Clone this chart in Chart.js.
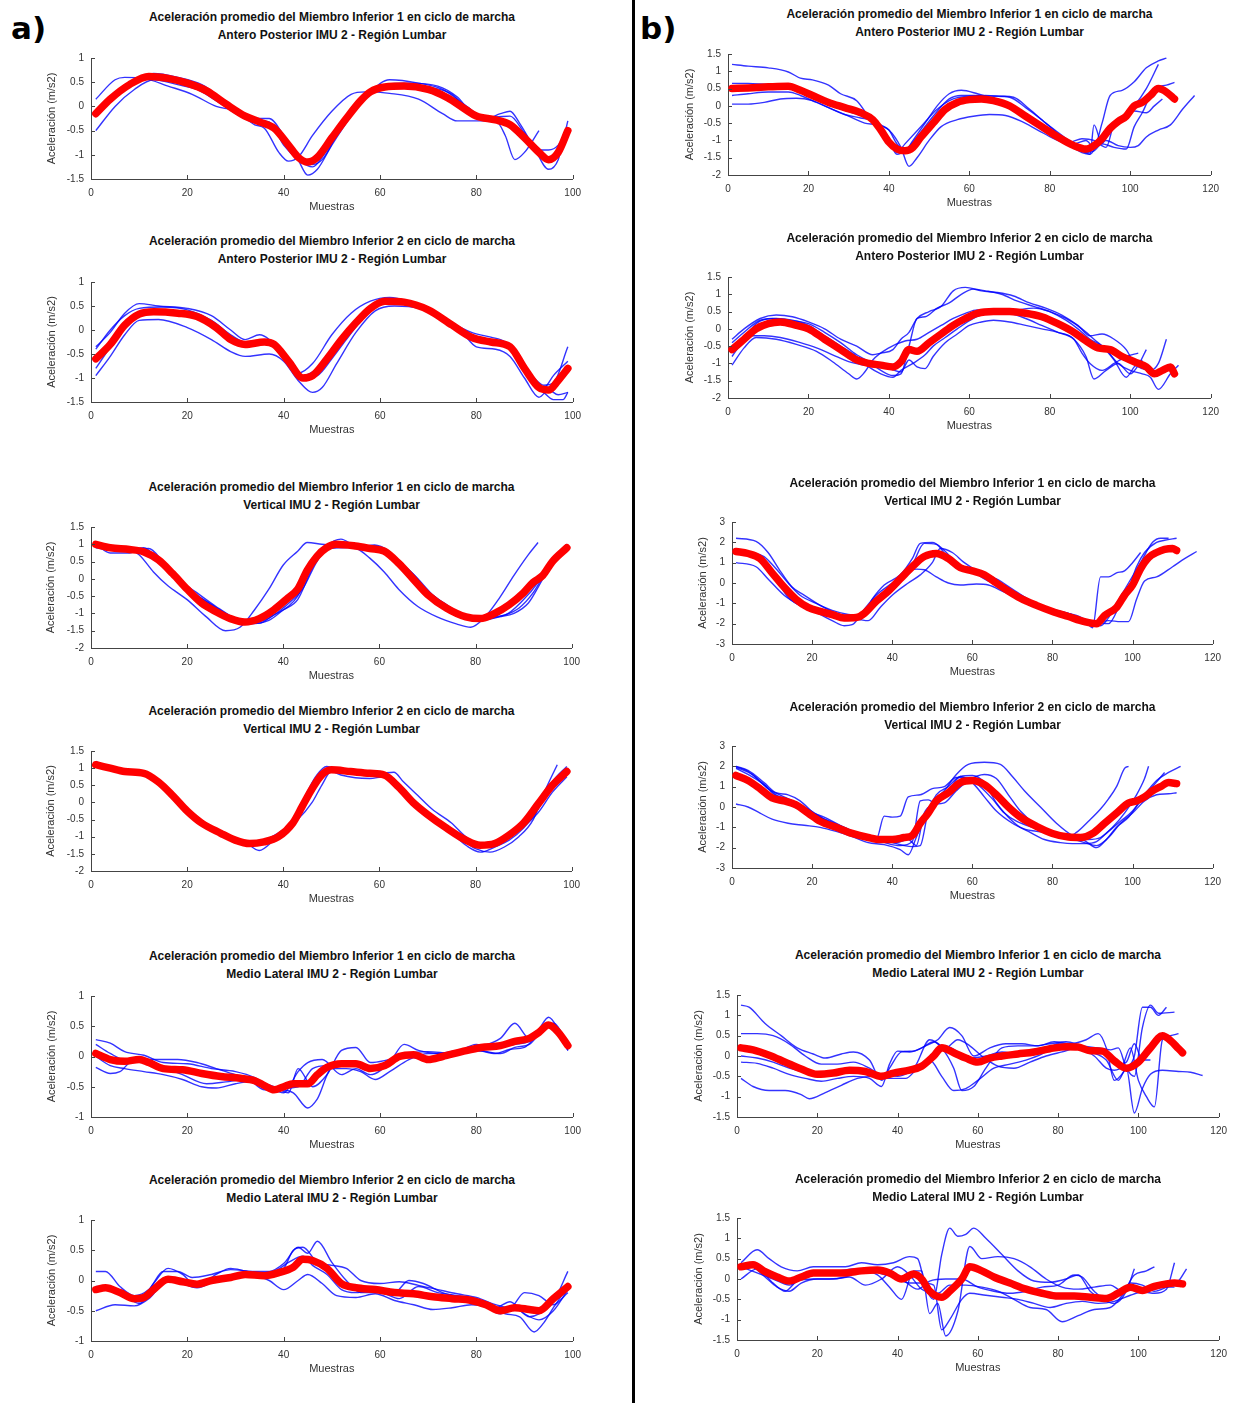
<!DOCTYPE html>
<html>
<head>
<meta charset="utf-8">
<script src="https://cdn.jsdelivr.net/npm/chart.js@4.4.1/dist/chart.umd.min.js"></script>
<style>
  body { margin: 0; background: #fff; width: 1235px; height: 1403px; position: relative; overflow: hidden; font-family: "Liberation Sans", Arial, sans-serif; }
  canvas { position: absolute; }
  .ttl { position: absolute; text-align: center; font-weight: bold; font-size: 12px; line-height: 18px; color: #111; white-space: nowrap; }
  .tag { position: absolute; font-weight: bold; font-size: 31px; color: #000; font-family: "DejaVu Sans", sans-serif; }
  #sep { position: absolute; left: 632px; top: 0; width: 3px; height: 1403px; background: #000; }
</style>
</head>
<body>
<div class="tag" style="left:11px;top:10px">a)</div>
<div class="tag" style="left:640px;top:10px">b)</div>
<div id="sep"></div>

<script>
// ---- data: [muestra, aceleración] ----

// a) Antero Posterior, Miembro Inferior 1
var a1Mean = [[1,-0.15],[4,0.15],[8,0.45],[12,0.62],[16,0.58],[20,0.48],[24,0.32],[28,0.05],[32,-0.2],[35,-0.32],[38,-0.45],[41,-0.8],[43,-1.05],[45,-1.15],[47,-1.05],[50,-0.65],[53,-0.25],[56,0.12],[58,0.3],[61,0.4],[65,0.42],[70,0.35],[74,0.18],[78,-0.08],[80,-0.2],[84,-0.28],[87,-0.38],[90,-0.65],[93,-0.95],[95,-1.1],[97,-0.95],[99,-0.5]];
var a1Trials = [
  [[1,0.15],[5,0.55],[7,0.6],[11,0.58],[16,0.42],[21,0.25],[26,0.0],[30,-0.1],[34,-0.38],[36,-0.45],[39,-0.95],[41,-1.13],[43,-1.05],[46,-0.6],[50,-0.1],[54,0.25],[57,0.3],[62,0.27],[68,0.15],[73,-0.15],[76,-0.3],[80,-0.3],[84,-0.3],[86,-0.6],[88,-1.1],[90,-0.95],[93,-0.5]],
  [[1,-0.5],[5,0.0],[9,0.35],[13,0.55],[18,0.45],[22,0.35],[27,0.05],[31,-0.2],[35,-0.25],[37,-0.25],[40,-0.6],[43,-1.1],[45,-1.42],[47,-1.3],[50,-0.8],[54,-0.2],[58,0.3],[62,0.55],[68,0.48],[73,0.35],[78,0.0],[82,-0.25],[85,-0.15],[87,-0.1],[89,-0.35],[92,-0.85],[95,-1.3],[97,-1.1],[99,-0.3]],
  [[1,-0.2],[5,0.2],[9,0.5],[13,0.68],[18,0.6],[23,0.45],[28,0.1],[33,-0.28],[37,-0.32],[40,-0.8],[43,-1.1],[46,-1.25],[49,-0.9],[53,-0.3],[57,0.25],[61,0.45],[66,0.48],[72,0.42],[76,0.2],[80,-0.2],[84,-0.22],[87,-0.2],[90,-0.55],[93,-0.9],[95,-0.9],[97,-0.8],[99,-0.45]],
  [[1,-0.15],[5,0.25],[9,0.5],[13,0.6],[18,0.55],[23,0.4],[28,0.05],[32,-0.25],[36,-0.3],[39,-0.55],[43,-1.05],[46,-1.2],[48,-1.1],[51,-0.6],[55,0.0],[59,0.4],[64,0.45],[70,0.4],[75,0.25],[79,-0.15],[83,-0.25],[86,-0.3],[89,-0.5],[92,-0.8],[95,-1.15],[97,-0.95],[99,-0.45]]
];

// a) Antero Posterior, Miembro Inferior 2
var a2Mean = [[1,-0.6],[4,-0.3],[7,0.1],[10,0.33],[13,0.38],[18,0.35],[22,0.28],[26,0.05],[29,-0.2],[32,-0.3],[36,-0.25],[38,-0.3],[41,-0.65],[44,-1.0],[46,-0.95],[49,-0.6],[52,-0.2],[55,0.15],[58,0.45],[61,0.6],[65,0.58],[70,0.42],[75,0.1],[79,-0.15],[83,-0.25],[87,-0.35],[90,-0.8],[93,-1.2],[95,-1.25],[97,-1.05],[99,-0.8]];
var a2Trials = [
  [[1,-0.35],[4,-0.05],[7,0.35],[10,0.55],[14,0.5],[20,0.45],[25,0.3],[29,0.0],[32,-0.2],[35,-0.1],[37,-0.2],[40,-0.55],[43,-0.9],[46,-0.7],[50,-0.1],[54,0.35],[58,0.6],[62,0.68],[66,0.6],[71,0.4],[75,0.15],[79,-0.05],[83,-0.15],[86,-0.25],[89,-0.6],[92,-1.0],[94,-1.15],[96,-1.1],[99,-0.35]],
  [[1,-0.95],[4,-0.55],[7,-0.1],[10,0.2],[14,0.22],[20,0.05],[25,-0.2],[29,-0.45],[32,-0.55],[37,-0.5],[40,-0.65],[43,-1.05],[46,-1.3],[48,-1.2],[51,-0.7],[55,-0.05],[59,0.4],[63,0.5],[68,0.45],[73,0.2],[77,-0.05],[80,-0.35],[84,-0.4],[87,-0.55],[90,-1.0],[93,-1.4],[95,-1.25],[97,-1.35],[99,-1.3]],
  [[1,-0.8],[4,-0.35],[7,0.1],[10,0.35],[14,0.4],[20,0.35],[25,0.15],[29,-0.15],[32,-0.28],[36,-0.25],[38,-0.3],[41,-0.7],[44,-1.0],[47,-0.95],[50,-0.6],[53,-0.2],[57,0.3],[61,0.6],[65,0.6],[70,0.45],[74,0.2],[78,-0.05],[82,-0.2],[86,-0.25],[89,-0.6],[92,-1.1],[94,-1.3],[96,-1.45],[98,-1.45],[99,-1.3]],
  [[1,-0.4],[4,0.0],[7,0.3],[10,0.45],[15,0.48],[20,0.42],[25,0.2],[29,-0.1],[32,-0.25],[36,-0.2],[39,-0.35],[42,-0.75],[44,-0.95],[47,-0.8],[50,-0.45],[54,0.1],[58,0.5],[62,0.6],[67,0.55],[71,0.4],[75,0.12],[79,-0.1],[83,-0.2],[86,-0.3],[89,-0.7],[92,-1.15],[94,-1.2],[96,-0.95],[99,-0.65]]
];

// a) Vertical, Miembro Inferior 1
var a3Mean = [[1,1.0],[4,0.9],[8,0.85],[11,0.78],[14,0.55],[17,0.15],[20,-0.3],[23,-0.7],[26,-0.95],[29,-1.15],[32,-1.25],[35,-1.15],[38,-0.9],[41,-0.55],[43,-0.3],[45,0.25],[47,0.65],[49,0.9],[51,1.0],[55,0.95],[58,0.88],[61,0.8],[64,0.45],[67,0.0],[70,-0.45],[74,-0.85],[78,-1.1],[81,-1.15],[84,-1.0],[87,-0.75],[90,-0.4],[92,-0.1],[94,0.1],[96,0.5],[99,0.9]];
var a3Trials = [
  [[1,1.05],[4,0.95],[8,0.85],[10,0.7],[13,0.2],[16,-0.2],[20,-0.6],[24,-1.1],[28,-1.5],[31,-1.4],[34,-0.9],[37,-0.3],[40,0.4],[43,0.8],[45,1.05],[48,1.0],[52,0.95],[55,0.9],[58,0.6],[61,0.2],[64,-0.3],[68,-0.8],[72,-1.1],[76,-1.3],[79,-1.4],[82,-1.1],[85,-0.55],[88,0.1],[91,0.7],[93,1.05]],
  [[1,0.9],[4,0.85],[8,0.85],[11,0.9],[14,0.55],[18,0.0],[22,-0.4],[26,-0.8],[30,-1.15],[33,-1.3],[37,-1.2],[40,-0.9],[43,-0.6],[46,0.3],[49,0.9],[52,1.0],[56,0.95],[59,0.95],[63,0.6],[67,0.15],[70,-0.35],[74,-0.75],[78,-1.1],[81,-1.2],[85,-1.1],[88,-1.0],[91,-0.7],[94,0.0],[97,0.7],[99,1.0]],
  [[1,1.0],[4,0.75],[8,0.75],[11,0.85],[14,0.5],[17,0.1],[20,-0.3],[24,-0.65],[28,-1.0],[31,-1.25],[35,-1.28],[38,-1.05],[41,-0.8],[43,-0.5],[46,0.4],[49,0.95],[52,1.15],[55,0.95],[59,0.9],[62,0.7],[66,0.2],[70,-0.35],[74,-0.8],[78,-1.1],[82,-1.15],[86,-1.05],[89,-0.85],[92,-0.4],[95,0.3],[99,1.0]],
  [[1,1.0],[4,0.9],[8,0.85],[12,0.88],[15,0.5],[18,0.05],[21,-0.35],[25,-0.75],[29,-1.1],[32,-1.28],[36,-1.2],[39,-0.95],[42,-0.6],[44,-0.3],[47,0.5],[49,0.85],[52,0.9],[56,0.92],[59,0.98],[62,0.8],[65,0.4],[68,0.0],[71,-0.45],[75,-0.85],[79,-1.1],[82,-1.1],[86,-1.05],[90,-0.6],[93,-0.1],[96,0.6],[99,0.95]]
];

// a) Vertical, Miembro Inferior 2
var a4Mean = [[1,1.1],[4,1.0],[7,0.9],[11,0.85],[14,0.6],[17,0.2],[20,-0.25],[23,-0.6],[27,-0.9],[30,-1.1],[33,-1.2],[36,-1.15],[39,-1.0],[42,-0.6],[44,-0.1],[46,0.4],[48,0.8],[50,0.95],[54,0.9],[58,0.85],[61,0.8],[64,0.45],[67,0.0],[70,-0.35],[74,-0.75],[78,-1.1],[81,-1.25],[84,-1.2],[87,-0.95],[90,-0.6],[93,-0.05],[96,0.5],[99,0.9]];
var a4Trials = [
  [[1,1.2],[4,1.0],[7,0.9],[11,0.85],[14,0.6],[17,0.2],[20,-0.25],[24,-0.65],[28,-0.95],[32,-1.15],[35,-1.4],[38,-1.1],[41,-0.7],[43,-0.35],[45,0.2],[47,0.7],[49,0.95],[52,0.8],[55,0.72],[58,0.7],[61,0.75],[63,0.6],[66,0.1],[69,-0.3],[73,-0.7],[77,-1.05],[80,-1.35],[83,-1.45],[86,-1.3],[89,-1.0],[92,-0.5],[94,0.2],[97,1.1]],
  [[1,1.1],[4,1.0],[7,0.92],[11,0.8],[14,0.55],[17,0.15],[20,-0.3],[24,-0.7],[28,-1.0],[31,-1.2],[34,-1.25],[37,-1.1],[40,-0.9],[43,-0.4],[45,0.3],[47,0.8],[49,1.05],[52,0.95],[56,0.88],[60,0.85],[63,0.88],[65,0.6],[68,0.2],[71,-0.2],[75,-0.6],[78,-1.0],[81,-1.2],[84,-1.2],[87,-1.0],[90,-0.7],[93,-0.3],[96,0.3],[99,0.75]],
  [[1,1.15],[4,1.0],[7,0.92],[10,0.9],[13,0.7],[16,0.3],[19,-0.1],[22,-0.5],[26,-0.85],[30,-1.1],[34,-1.15],[37,-1.05],[40,-0.8],[43,-0.5],[46,0.0],[48,0.5],[50,0.9],[53,0.9],[56,0.9],[60,0.85],[62,0.7],[65,0.2],[68,-0.2],[71,-0.55],[75,-0.9],[78,-1.25],[81,-1.45],[84,-1.3],[87,-1.1],[90,-0.75],[93,-0.2],[96,0.6],[99,1.05]]
];

// a) Medio Lateral, Miembro Inferior 1
var a5Mean = [[1,0.05],[4,-0.05],[7,-0.08],[10,-0.05],[12,-0.1],[15,-0.2],[19,-0.22],[23,-0.28],[27,-0.33],[31,-0.36],[34,-0.4],[36,-0.48],[38,-0.55],[40,-0.5],[42,-0.45],[45,-0.45],[47,-0.3],[49,-0.18],[52,-0.12],[55,-0.12],[58,-0.2],[61,-0.15],[64,0.0],[67,0.03],[70,-0.05],[73,0.0],[77,0.08],[81,0.15],[85,0.18],[88,0.25],[91,0.3],[93,0.4],[95,0.52],[97,0.4],[99,0.18]];
var a5Trials = [
  [[1,0.28],[4,0.22],[7,0.08],[11,0.02],[15,-0.1],[20,-0.12],[25,-0.2],[30,-0.25],[34,-0.35],[37,-0.5],[40,-0.6],[43,-0.25],[45,-0.1],[48,-0.05],[52,-0.3],[55,-0.2],[58,-0.3],[62,-0.1],[65,0.2],[68,0.1],[72,0.05],[76,0.1],[80,0.15],[85,0.3],[88,0.55],[91,0.3],[93,0.45],[95,0.65],[97,0.45],[99,0.1]],
  [[1,0.2],[4,0.05],[7,-0.05],[10,-0.05],[14,-0.15],[19,-0.3],[24,-0.45],[28,-0.42],[32,-0.38],[35,-0.42],[38,-0.5],[41,-0.6],[43,-0.2],[46,-0.5],[49,-0.3],[52,0.1],[55,0.15],[58,-0.1],[62,-0.05],[65,0.0],[70,-0.05],[75,0.05],[80,0.1],[85,0.05],[88,0.15],[91,0.2],[94,0.45],[96,0.5],[99,0.15]],
  [[1,0.0],[4,-0.15],[7,-0.2],[11,-0.25],[15,-0.3],[19,-0.38],[23,-0.5],[26,-0.52],[30,-0.45],[33,-0.42],[36,-0.55],[39,-0.55],[42,-0.6],[45,-0.85],[47,-0.7],[50,-0.2],[53,-0.2],[56,-0.25],[59,-0.38],[62,-0.25],[66,-0.05],[70,0.05],[75,0.05],[80,0.1],[84,0.05],[87,0.12],[90,0.15],[93,0.4],[95,0.55],[97,0.4],[99,0.1]],
  [[1,-0.18],[4,-0.28],[6,-0.25],[9,-0.05],[13,-0.05],[18,-0.05],[22,-0.1],[26,-0.2],[30,-0.3],[34,-0.38],[37,-0.5],[40,-0.52],[43,-0.5],[46,-0.2],[49,-0.15],[52,-0.15],[55,-0.12],[58,-0.22],[62,-0.1],[66,0.05],[70,0.08],[75,0.05],[80,0.2],[84,0.15],[88,0.2],[91,0.25],[94,0.45],[96,0.55],[99,0.2]]
];

// a) Medio Lateral, Miembro Inferior 2
var a6Mean = [[1,-0.15],[3,-0.12],[6,-0.2],[9,-0.3],[11,-0.28],[13,-0.15],[16,0.02],[19,-0.02],[22,-0.06],[25,0.0],[29,0.05],[32,0.1],[36,0.08],[39,0.13],[42,0.22],[44,0.35],[46,0.33],[49,0.2],[52,-0.05],[55,-0.12],[59,-0.15],[63,-0.2],[67,-0.22],[71,-0.27],[75,-0.3],[79,-0.33],[82,-0.4],[85,-0.5],[88,-0.45],[91,-0.48],[93,-0.5],[96,-0.3],[99,-0.1]];
var a6Trials = [
  [[1,0.15],[3,0.15],[6,-0.1],[9,-0.25],[12,-0.15],[15,0.15],[18,0.15],[21,0.05],[25,0.1],[29,0.18],[33,0.15],[37,0.12],[40,0.2],[42,0.5],[44,0.55],[47,0.3],[50,0.25],[53,0.2],[56,0.0],[60,-0.05],[64,-0.02],[68,-0.08],[72,-0.15],[76,-0.22],[80,-0.28],[84,-0.4],[87,-0.45],[90,-0.2],[93,-0.25],[96,-0.4],[99,-0.2]],
  [[1,-0.5],[5,-0.4],[9,-0.42],[12,-0.3],[15,-0.05],[18,0.0],[21,-0.1],[25,0.0],[29,0.02],[33,0.1],[37,0.0],[40,-0.15],[43,0.0],[45,0.1],[48,-0.05],[51,-0.25],[55,-0.28],[59,-0.22],[63,-0.33],[67,-0.4],[71,-0.48],[75,-0.45],[79,-0.4],[83,-0.45],[86,-0.55],[89,-0.6],[92,-0.85],[94,-0.7],[96,-0.45],[99,-0.1]],
  [[1,-0.1],[4,-0.1],[7,-0.25],[10,-0.35],[13,-0.05],[16,0.2],[19,0.1],[22,-0.1],[26,0.1],[29,0.2],[33,0.15],[37,0.15],[40,0.28],[43,0.55],[45,0.45],[47,0.65],[50,0.3],[53,0.0],[56,-0.2],[60,-0.2],[64,-0.3],[68,-0.1],[72,-0.2],[76,-0.25],[80,-0.3],[84,-0.45],[87,-0.35],[90,-0.55],[93,-0.65],[96,-0.5],[99,-0.15]],
  [[1,-0.15],[4,-0.15],[7,-0.25],[10,-0.38],[13,-0.15],[16,0.05],[19,-0.05],[22,-0.12],[26,0.0],[30,0.05],[34,0.12],[38,0.15],[41,0.3],[44,0.4],[46,0.25],[49,0.1],[52,-0.15],[55,-0.2],[59,-0.15],[63,-0.2],[66,0.0],[69,-0.05],[73,-0.2],[77,-0.28],[81,-0.38],[85,-0.55],[88,-0.45],[91,-0.6],[93,-0.55],[96,-0.35],[99,0.15]]
];

// b) Antero Posterior, Miembro Inferior 1
var b1Mean = [[1,0.5],[5,0.52],[10,0.55],[15,0.57],[18,0.45],[21,0.3],[25,0.1],[29,-0.05],[33,-0.2],[36,-0.4],[38,-0.7],[40,-1.05],[42,-1.25],[44,-1.3],[46,-1.2],[48,-0.9],[51,-0.5],[54,-0.1],[57,0.1],[60,0.18],[63,0.2],[66,0.15],[70,0.0],[74,-0.3],[78,-0.6],[82,-0.9],[86,-1.15],[89,-1.25],[91,-1.15],[93,-0.95],[95,-0.65],[97,-0.45],[99,-0.3],[101,0.0],[103,0.1],[105,0.3],[107,0.5],[109,0.4],[111,0.2]];
var b1Trials = [
  [[1,1.2],[5,1.15],[10,1.1],[15,0.98],[18,0.8],[21,0.75],[25,0.6],[28,0.35],[32,0.15],[35,-0.3],[38,-0.55],[40,-0.7],[42,-1.1],[44,-1.3],[46,-1.0],[49,-0.5],[52,0.0],[55,0.35],[58,0.45],[62,0.35],[66,0.2],[70,0.0],[74,-0.3],[78,-0.55],[82,-0.85],[86,-1.1],[89,-1.0],[91,-1.2],[93,-0.5],[95,0.3],[98,0.45],[101,0.7],[104,1.1],[107,1.3],[109,1.38]],
  [[1,0.65],[5,0.65],[10,0.62],[15,0.6],[18,0.5],[22,0.3],[26,0.0],[30,-0.15],[34,-0.25],[37,-0.5],[40,-1.0],[42,-1.4],[44,-1.3],[47,-0.9],[51,-0.3],[55,0.2],[58,0.3],[62,0.3],[66,0.28],[70,0.25],[74,-0.05],[78,-0.4],[82,-0.8],[86,-1.15],[89,-1.35],[91,-1.3],[93,-1.1],[96,-1.2],[99,-1.25],[101,-0.6],[103,-0.2],[106,0.5],[109,0.6],[111,0.68]],
  [[1,0.3],[5,0.35],[10,0.4],[15,0.4],[18,0.3],[22,0.1],[26,-0.1],[30,-0.3],[34,-0.5],[37,-0.55],[40,-0.7],[43,-1.2],[45,-1.75],[47,-1.5],[50,-1.0],[53,-0.6],[57,-0.4],[61,-0.3],[65,-0.25],[69,-0.28],[73,-0.45],[77,-0.7],[81,-0.95],[85,-1.15],[88,-1.35],[90,-1.4],[92,-1.1],[94,-1.0],[97,-1.15],[100,-1.2],[102,-1.15],[104,-0.9],[107,-0.7],[110,-0.55],[113,-0.1],[116,0.3]],
  [[1,0.05],[5,0.05],[9,0.1],[13,0.2],[17,0.22],[21,0.15],[25,-0.05],[29,-0.25],[33,-0.35],[36,-0.45],[39,-0.8],[42,-1.35],[44,-1.1],[48,-0.6],[52,-0.1],[56,0.2],[60,0.28],[64,0.3],[68,0.28],[71,0.25],[75,-0.1],[79,-0.5],[83,-0.85],[87,-1.2],[90,-1.4],[91,-0.55],[93,-1.1],[95,-0.6],[98,-0.35],[101,0.0],[104,0.5],[107,1.2]],
  [[1,0.55],[5,0.55],[10,0.5],[15,0.5],[19,0.4],[23,0.15],[27,-0.05],[31,-0.2],[35,-0.35],[38,-0.6],[41,-1.2],[43,-1.35],[46,-1.2],[50,-0.6],[54,-0.1],[57,0.15],[61,0.2],[65,0.15],[69,0.05],[73,-0.2],[77,-0.5],[81,-0.85],[85,-1.05],[88,-0.95],[91,-1.0],[94,-1.2],[96,-0.5],[98,-0.3],[101,-0.15],[104,-0.2],[106,0.0],[108,0.2]]
];

// b) Antero Posterior, Miembro Inferior 2
var b2Mean = [[1,-0.6],[4,-0.3],[7,0.0],[10,0.15],[13,0.2],[17,0.1],[20,0.0],[24,-0.3],[28,-0.6],[32,-0.9],[35,-1.0],[38,-1.05],[41,-1.1],[43,-0.95],[45,-0.6],[47,-0.65],[50,-0.4],[53,-0.15],[56,0.1],[59,0.3],[62,0.45],[66,0.5],[70,0.5],[74,0.45],[78,0.35],[82,0.15],[86,-0.1],[89,-0.35],[92,-0.55],[95,-0.6],[98,-0.8],[101,-0.95],[104,-1.1],[106,-1.3],[108,-1.2],[110,-1.1],[111,-1.3]];
var b2Trials = [
  [[1,-0.3],[4,0.0],[8,0.3],[12,0.4],[16,0.35],[20,0.2],[24,0.0],[28,-0.3],[32,-0.5],[36,-0.75],[38,-0.7],[41,-0.6],[43,-0.3],[45,-0.1],[47,0.3],[50,0.5],[53,0.65],[56,1.1],[59,1.2],[63,1.1],[67,1.05],[71,0.95],[75,0.75],[79,0.6],[83,0.4],[87,0.1],[90,-0.2],[93,-0.15],[96,-0.3],[99,-0.6],[101,-1.0],[103,-1.15],[105,-1.2],[107,-1.0],[109,-0.3]],
  [[1,-1.05],[4,-0.55],[7,-0.25],[12,-0.3],[17,-0.45],[22,-0.65],[26,-0.95],[30,-1.3],[32,-1.45],[34,-1.25],[36,-0.9],[40,-0.55],[44,-0.35],[47,-0.3],[50,-0.1],[53,0.1],[56,0.3],[59,0.45],[62,0.55],[66,0.5],[70,0.45],[74,0.3],[78,0.1],[82,-0.1],[86,-0.3],[89,-0.8],[91,-1.45],[94,-1.2],[97,-1.0],[100,-1.3],[102,-1.05],[104,-0.6]],
  [[1,-0.8],[4,-0.3],[7,0.15],[11,0.3],[15,0.25],[20,0.15],[24,-0.1],[28,-0.4],[32,-0.75],[35,-0.95],[38,-1.2],[41,-1.35],[43,-1.3],[45,-0.5],[47,0.3],[49,0.35],[52,0.6],[55,0.75],[58,1.0],[61,1.15],[64,1.1],[68,1.0],[72,0.8],[76,0.65],[80,0.5],[84,0.25],[87,0.0],[90,-0.3],[93,-0.5],[96,-0.9],[99,-1.4],[101,-1.1],[103,-0.9]],
  [[1,-0.4],[4,-0.1],[8,0.25],[12,0.3],[16,0.25],[20,0.1],[24,-0.2],[28,-0.5],[32,-0.8],[35,-1.1],[38,-1.3],[41,-1.4],[43,-1.2],[46,-1.0],[49,-0.75],[51,-0.5],[54,-0.25],[57,0.0],[61,0.3],[64,0.45],[68,0.5],[72,0.55],[76,0.6],[80,0.5],[84,0.3],[88,0.0],[91,-0.3],[94,-0.6],[97,-1.0],[100,-1.2],[103,-1.3],[105,-1.4],[107,-1.75],[110,-1.3],[112,-1.05]],
  [[1,-0.5],[5,-0.2],[9,-0.2],[13,-0.25],[18,-0.4],[22,-0.55],[26,-0.75],[30,-0.95],[34,-1.05],[37,-1.1],[40,-1.15],[43,-1.25],[45,-0.9],[47,-1.1],[49,-1.15],[51,-0.8],[54,-0.4],[57,-0.15],[60,0.1],[63,0.2],[66,0.25],[70,0.2],[74,0.1],[78,0.0],[82,-0.1],[86,-0.3],[88,-0.7],[90,-1.0],[93,-1.2],[96,-1.0],[99,-0.8],[102,-0.7]]
];

// b) Vertical, Miembro Inferior 1
var b3Mean = [[1,1.55],[4,1.45],[7,1.2],[10,0.5],[13,-0.2],[16,-0.8],[19,-1.2],[22,-1.4],[25,-1.55],[28,-1.72],[31,-1.7],[33,-1.5],[36,-0.9],[39,-0.4],[42,0.2],[45,0.8],[48,1.3],[51,1.45],[54,1.2],[57,0.75],[60,0.6],[63,0.4],[66,0.0],[69,-0.4],[72,-0.75],[76,-1.1],[80,-1.4],[84,-1.65],[88,-1.9],[91,-2.0],[93,-1.6],[96,-1.2],[98,-0.6],[100,-0.1],[102,0.7],[104,1.25],[106,1.5],[108,1.65],[110,1.7],[111,1.6]];
var b3Trials = [
  [[1,2.2],[6,2.05],[9,1.5],[12,0.6],[15,-0.2],[18,-0.6],[22,-1.1],[26,-1.5],[29,-1.7],[32,-1.8],[35,-0.8],[38,-0.1],[42,0.4],[45,1.2],[47,1.95],[50,2.0],[53,1.6],[56,1.0],[60,0.6],[63,0.2],[67,-0.2],[71,-0.7],[75,-1.05],[79,-1.3],[83,-1.55],[87,-1.8],[90,-2.0],[92,-2.1],[94,-1.7],[96,-1.0],[99,0.0],[102,1.0],[105,2.0],[107,2.2],[109,2.2]],
  [[1,1.0],[6,0.8],[9,0.2],[13,-0.6],[17,-1.1],[21,-1.45],[25,-1.85],[28,-2.1],[30,-2.05],[33,-1.3],[36,-0.6],[40,0.0],[44,0.6],[46,0.68],[48,0.65],[51,0.3],[54,0.0],[57,-0.1],[61,-0.05],[64,-0.1],[68,-0.45],[72,-0.8],[76,-1.1],[80,-1.35],[84,-1.55],[88,-1.85],[90,-2.2],[92,0.3],[94,0.3],[96,0.5],[98,0.6],[100,1.0],[102,1.5]],
  [[1,1.5],[5,1.35],[8,1.0],[11,0.2],[14,-0.7],[18,-1.2],[22,-1.4],[26,-1.55],[29,-1.6],[31,-1.75],[34,-1.85],[37,-1.2],[40,-0.6],[44,0.0],[47,0.4],[50,1.0],[52,1.7],[55,1.5],[58,1.0],[62,0.5],[66,0.2],[70,-0.3],[74,-0.8],[78,-1.15],[82,-1.4],[86,-1.6],[89,-1.85],[91,-1.95],[94,-1.85],[97,-1.9],[99,-1.9],[101,-0.8],[103,0.1],[106,0.3],[110,0.8],[113,1.2],[116,1.55]],
  [[1,1.6],[5,1.5],[8,1.3],[11,0.7],[14,0.0],[17,-0.6],[21,-1.0],[25,-1.35],[29,-1.55],[32,-1.6],[35,-1.05],[38,-0.4],[42,0.3],[45,0.9],[48,1.95],[51,1.9],[54,1.2],[57,0.8],[61,0.55],[65,0.3],[68,-0.2],[72,-0.6],[76,-1.0],[80,-1.3],[84,-1.5],[88,-1.8],[91,-1.9],[94,-2.0],[97,-1.0],[99,-0.3],[101,0.8],[103,1.5],[106,2.0],[108,2.1],[111,2.2]]
];

// b) Vertical, Miembro Inferior 2
var b4Mean = [[1,1.55],[4,1.3],[7,0.9],[10,0.45],[13,0.3],[16,0.1],[19,-0.3],[22,-0.7],[26,-1.0],[30,-1.3],[34,-1.5],[37,-1.6],[40,-1.6],[43,-1.5],[45,-1.4],[47,-0.8],[49,-0.3],[51,0.3],[54,0.7],[57,1.2],[60,1.3],[63,1.1],[66,0.6],[69,0.0],[72,-0.5],[76,-0.95],[80,-1.3],[84,-1.48],[87,-1.5],[90,-1.3],[93,-0.8],[96,-0.3],[99,0.2],[101,0.3],[103,0.5],[105,0.8],[107,1.0],[109,1.2],[111,1.15]];
var b4Trials = [
  [[1,2.0],[4,1.8],[8,1.2],[11,0.7],[14,0.6],[17,0.3],[21,-0.4],[25,-0.8],[29,-1.15],[33,-1.4],[36,-1.6],[38,-0.45],[40,-0.5],[42,-0.45],[44,0.5],[47,0.6],[50,0.9],[53,1.0],[56,1.45],[59,1.4],[62,1.0],[65,0.4],[68,-0.3],[71,-0.7],[75,-1.0],[79,-1.3],[83,-1.55],[86,-1.25],[89,-0.7],[92,-0.1],[94,0.4],[96,1.0],[98,1.9],[99,2.0]],
  [[1,0.15],[4,0.0],[7,-0.3],[10,-0.6],[14,-0.8],[18,-0.9],[22,-1.0],[26,-1.2],[30,-1.45],[34,-1.75],[38,-1.85],[42,-2.1],[44,-2.35],[46,-1.5],[48,-0.6],[50,0.2],[53,0.8],[56,1.6],[59,2.1],[63,2.2],[67,2.1],[70,1.5],[73,0.8],[77,0.0],[81,-0.8],[85,-1.4],[89,-1.6],[92,-1.5],[95,-1.0],[98,-0.3],[101,0.6],[103,1.4],[104,2.0]],
  [[1,2.0],[4,1.75],[8,1.1],[11,0.55],[15,0.3],[19,-0.2],[23,-0.5],[27,-0.9],[31,-1.25],[35,-1.5],[39,-1.8],[42,-1.9],[45,-1.7],[47,0.3],[49,0.35],[51,0.15],[53,0.2],[56,0.8],[59,1.3],[63,1.6],[66,1.4],[69,0.6],[72,-0.2],[76,-0.9],[80,-1.3],[84,-1.5],[88,-1.75],[91,-1.9],[94,-1.5],[97,-0.8],[100,-0.3],[103,0.3],[106,0.6],[109,0.65],[111,0.7]],
  [[1,1.9],[4,1.6],[8,1.1],[11,0.6],[15,0.3],[19,-0.1],[23,-0.6],[27,-1.0],[31,-1.3],[35,-1.55],[39,-1.7],[43,-1.9],[45,-1.95],[47,-1.9],[49,-0.2],[51,0.6],[54,1.0],[57,1.5],[60,1.2],[63,0.5],[66,-0.2],[70,-0.8],[74,-1.2],[78,-1.6],[82,-1.75],[85,-1.8],[88,-1.8],[91,-1.7],[94,-1.2],[97,-0.7],[100,-0.2],[103,0.6],[106,1.3],[109,1.7],[112,2.0]],
  [[1,1.95],[5,1.6],[9,0.9],[13,0.5],[17,0.1],[21,-0.4],[25,-0.75],[29,-1.1],[33,-1.4],[37,-1.6],[41,-1.75],[44,-1.6],[46,-1.9],[48,-0.3],[51,0.2],[54,0.8],[57,1.5],[60,1.55],[63,1.2],[66,0.2],[69,-0.5],[72,-1.0],[76,-1.2],[80,-1.3],[84,-1.45],[88,-1.65],[91,-2.0],[93,-1.7],[96,-1.0],[99,-0.5],[102,0.3],[105,1.0],[108,1.7]]
];

// b) Medio Lateral, Miembro Inferior 1
var b5Mean = [[1,0.2],[4,0.15],[8,0.02],[12,-0.15],[16,-0.32],[20,-0.45],[24,-0.42],[28,-0.35],[32,-0.38],[36,-0.5],[39,-0.42],[43,-0.35],[46,-0.25],[49,0.0],[51,0.2],[54,0.08],[57,-0.05],[60,-0.15],[63,-0.05],[66,0.0],[70,0.05],[74,0.1],[78,0.18],[82,0.23],[85,0.22],[88,0.13],[91,0.12],[94,-0.12],[97,-0.3],[100,-0.15],[103,0.2],[106,0.5],[108,0.38],[110,0.18],[111,0.08]];
var b5Trials = [
  [[1,1.25],[3,1.2],[7,0.8],[11,0.5],[15,0.2],[19,0.05],[22,-0.05],[26,0.05],[29,0.1],[33,-0.1],[36,-0.6],[38,-0.3],[41,0.1],[44,0.12],[47,0.25],[50,0.4],[53,0.7],[56,0.5],[59,0.0],[63,0.2],[67,0.3],[71,0.3],[75,0.25],[79,0.35],[83,0.3],[87,0.4],[90,0.55],[92,0.2],[94,-0.6],[97,-0.3],[99,0.0],[101,1.2],[103,1.2],[105,1.0],[107,1.2]],
  [[1,0.55],[5,0.55],[9,0.5],[13,0.3],[17,0.0],[21,-0.2],[25,-0.2],[29,-0.15],[33,-0.3],[37,-0.55],[40,-0.4],[44,-0.3],[48,0.4],[51,0.2],[54,-0.3],[56,-0.85],[59,-0.75],[62,-0.3],[66,0.2],[70,0.25],[74,0.25],[78,0.3],[82,0.35],[86,0.25],[90,0.2],[93,0.15],[95,0.2],[97,-0.3],[99,-0.5],[101,0.7],[103,1.25],[105,1.05],[109,1.08]],
  [[1,-0.15],[5,-0.18],[9,-0.3],[13,-0.45],[17,-0.55],[21,-0.62],[25,-0.55],[29,-0.5],[33,-0.55],[36,-0.75],[38,-0.2],[40,0.12],[43,0.1],[46,0.2],[49,0.35],[52,0.2],[55,0.4],[58,0.25],[61,0.0],[65,-0.25],[69,-0.3],[73,-0.15],[77,0.0],[81,0.1],[85,0.2],[89,0.0],[92,-0.3],[94,-0.35],[96,-0.25],[98,0.2],[100,-0.6],[102,-1.0],[104,-1.25],[106,0.4],[108,0.5],[110,0.55]],
  [[1,-0.55],[4,-0.75],[8,-0.85],[12,-0.85],[16,-0.95],[18,-1.05],[22,-0.9],[26,-0.72],[30,-0.55],[34,-0.5],[38,-0.55],[42,-0.55],[45,-0.3],[48,-0.1],[51,-0.5],[54,-0.85],[57,-0.8],[60,-0.6],[64,-0.3],[68,-0.2],[72,-0.1],[76,0.05],[80,0.3],[84,0.25],[88,0.1],[92,-0.1],[95,-0.6],[97,-0.3],[99,-1.4],[101,-0.8],[103,-0.45],[106,-0.35],[110,-0.38],[113,-0.4],[116,-0.48]],
  [[1,0.0],[5,-0.05],[9,-0.15],[13,-0.3],[17,-0.4],[21,-0.5],[25,-0.45],[29,-0.3],[33,-0.35],[36,-0.45],[40,-0.5],[44,-0.35],[47,-0.2],[50,0.1],[52,0.25],[55,0.1],[58,-0.05],[62,0.0],[66,0.1],[70,0.05],[74,0.1],[78,0.15],[82,0.2],[86,0.2],[89,0.15],[92,0.1],[95,-0.2],[97,-0.15],[99,0.3],[101,-0.1],[103,-0.1]]
];

// b) Medio Lateral, Miembro Inferior 2
var b6Mean = [[1,0.3],[4,0.35],[7,0.18],[10,0.05],[13,-0.05],[16,0.05],[19,0.15],[23,0.15],[27,0.15],[31,0.2],[35,0.22],[38,0.15],[41,0.0],[44,0.12],[46,0.0],[48,-0.3],[51,-0.45],[53,-0.3],[56,0.0],[58,0.3],[61,0.2],[64,0.05],[68,-0.1],[72,-0.25],[76,-0.35],[80,-0.42],[84,-0.42],[88,-0.45],[92,-0.48],[95,-0.35],[98,-0.2],[101,-0.28],[104,-0.18],[107,-0.12],[109,-0.1],[111,-0.12]];
var b6Trials = [
  [[1,0.4],[5,0.72],[8,0.5],[11,0.3],[15,0.2],[19,0.3],[23,0.3],[27,0.3],[31,0.4],[35,0.35],[39,0.4],[43,0.55],[45,0.5],[47,-0.2],[49,-0.5],[51,0.6],[53,1.25],[55,1.05],[57,1.1],[59,1.25],[62,1.0],[66,0.6],[70,0.2],[74,-0.05],[78,-0.08],[82,0.0],[85,0.1],[88,-0.3],[91,-0.5],[94,-0.6],[97,-0.3],[99,0.25]],
  [[1,0.0],[5,0.25],[9,-0.1],[12,-0.3],[15,-0.05],[19,0.0],[23,0.0],[27,0.05],[31,0.2],[35,0.1],[38,-0.2],[41,-0.5],[44,0.2],[46,0.2],[48,-0.85],[50,-0.6],[52,-1.4],[55,-0.8],[58,0.8],[61,0.5],[65,0.55],[69,0.5],[73,0.3],[77,0.0],[81,-0.2],[85,-0.25],[89,-0.2],[93,-0.15],[96,-0.3],[99,0.1],[102,0.2],[104,0.3]],
  [[1,0.3],[5,0.15],[9,0.0],[13,-0.15],[17,0.1],[21,0.2],[25,0.2],[29,0.25],[33,0.2],[37,0.15],[40,0.0],[43,-0.1],[46,-0.1],[49,-0.15],[51,-1.25],[53,-1.0],[56,-0.5],[58,-0.35],[62,-0.4],[66,-0.45],[70,-0.5],[74,-0.6],[78,-0.7],[82,-0.6],[86,-0.55],[90,-0.6],[94,-0.55],[98,-0.4],[101,-0.3],[104,-0.25],[107,-0.2],[109,-0.2]],
  [[1,0.35],[4,0.3],[7,0.05],[10,-0.2],[13,-0.3],[16,-0.1],[20,0.0],[24,0.0],[28,0.05],[32,-0.15],[36,0.0],[40,0.3],[43,0.1],[46,-0.25],[50,-0.35],[53,-0.15],[57,-0.15],[61,-0.2],[65,-0.3],[69,-0.5],[73,-0.7],[77,-0.75],[81,-1.05],[85,-0.9],[89,-0.75],[93,-0.7],[96,-0.4],[98,-0.1],[101,-0.15],[104,-0.3],[107,-0.2],[110,-0.05],[112,0.25]],
  [[1,0.25],[5,0.3],[9,0.15],[13,0.0],[17,0.1],[21,0.1],[25,0.2],[29,0.2],[33,0.2],[37,0.1],[41,0.0],[45,-0.25],[48,-0.05],[52,0.0],[56,0.0],[60,-0.2],[64,-0.3],[68,-0.35],[72,-0.3],[76,-0.2],[80,-0.15],[84,0.1],[86,0.05],[89,-0.3],[92,-0.5],[95,-0.4],[98,-0.2],[101,-0.3],[104,-0.35],[107,-0.25],[109,0.4]]
];

var line1 = 'Aceleración promedio del Miembro Inferior ';
var line2 = {ap: 'Antero Posterior IMU 2 - Región Lumbar', v: 'Vertical IMU 2 - Región Lumbar', ml: 'Medio Lateral IMU 2 - Región Lumbar'};

// plot-area frame of each subplot in page pixels
var panels = [
  {mean: a1Mean, trials: a1Trials, limb: 1, dir: 'ap', L: 91, R: 573, T: 55, B: 179, yMin: -1.5, yMax: 1, yStep: 0.5, xMax: 100, labX: 52, tY: 8},
  {mean: a2Mean, trials: a2Trials, limb: 2, dir: 'ap', L: 91, R: 573, T: 279, B: 402, yMin: -1.5, yMax: 1, yStep: 0.5, xMax: 100, labX: 52, tY: 232},
  {mean: a3Mean, trials: a3Trials, limb: 1, dir: 'v', L: 91, R: 572, T: 524, B: 648, yMin: -2, yMax: 1.5, yStep: 0.5, xMax: 100, labX: 51, tY: 478},
  {mean: a4Mean, trials: a4Trials, limb: 2, dir: 'v', L: 91, R: 572, T: 748, B: 871, yMin: -2, yMax: 1.5, yStep: 0.5, xMax: 100, labX: 51, tY: 702},
  {mean: a5Mean, trials: a5Trials, limb: 1, dir: 'ml', L: 91, R: 573, T: 993, B: 1117, yMin: -1, yMax: 1, yStep: 0.5, xMax: 100, labX: 52, tY: 947},
  {mean: a6Mean, trials: a6Trials, limb: 2, dir: 'ml', L: 91, R: 573, T: 1217, B: 1341, yMin: -1, yMax: 1, yStep: 0.5, xMax: 100, labX: 52, tY: 1171},
  {mean: b1Mean, trials: b1Trials, limb: 1, dir: 'ap', L: 728, R: 1211, T: 51, B: 175, yMin: -2, yMax: 1.5, yStep: 0.5, xMax: 120, labX: 690, tY: 5},
  {mean: b2Mean, trials: b2Trials, limb: 2, dir: 'ap', L: 728, R: 1211, T: 274, B: 398, yMin: -2, yMax: 1.5, yStep: 0.5, xMax: 120, labX: 690, tY: 229},
  {mean: b3Mean, trials: b3Trials, limb: 1, dir: 'v', L: 732, R: 1213, T: 519, B: 644, yMin: -3, yMax: 3, yStep: 1, xMax: 120, labX: 703, tY: 474},
  {mean: b4Mean, trials: b4Trials, limb: 2, dir: 'v', L: 732, R: 1213, T: 743, B: 868, yMin: -3, yMax: 3, yStep: 1, xMax: 120, labX: 703, tY: 698},
  {mean: b5Mean, trials: b5Trials, limb: 1, dir: 'ml', L: 737, R: 1219, T: 992, B: 1117, yMin: -1.5, yMax: 1.5, yStep: 0.5, xMax: 120, labX: 699, tY: 946},
  {mean: b6Mean, trials: b6Trials, limb: 2, dir: 'ml', L: 737, R: 1219, T: 1215, B: 1340, yMin: -1.5, yMax: 1.5, yStep: 0.5, xMax: 120, labX: 699, tY: 1170}
];

// octave style ticks pointing into the plot
var inwardTicks = {
  id: 'inwardTicks',
  afterDatasetsDraw: function(chart) {
    var ctx = chart.ctx, a = chart.chartArea, sx = chart.scales.x, sy = chart.scales.y;
    ctx.save();
    ctx.strokeStyle = '#444';
    ctx.lineWidth = 1;
    ctx.beginPath();
    sx.ticks.forEach(function(t) {
      var px = Math.round(sx.getPixelForValue(t.value)) + 0.5;
      ctx.moveTo(px, a.bottom); ctx.lineTo(px, a.bottom - 4);
    });
    sy.ticks.forEach(function(t) {
      var py = Math.round(sy.getPixelForValue(t.value)) + 0.5;
      ctx.moveTo(a.left, py); ctx.lineTo(a.left + 4, py);
    });
    ctx.stroke();
    ctx.restore();
  }
};

function pts(arr) { return arr.map(function(p) { return {x: p[0], y: p[1]}; }); }
function fmt(v) { return String(+Number(v).toFixed(2)); }

var PADT = 10, PADR = 16, XH = 35;
var tickFont = {family: '"Liberation Sans", Arial, sans-serif', size: 10};
var axFont = {family: '"Liberation Sans", Arial, sans-serif', size: 11};

panels.forEach(function(p, i) {
  var yW = p.L - p.labX + 7;
  var cv = document.createElement('canvas');
  var w = yW + (p.R - p.L) + PADR, h = PADT + (p.B - p.T) + XH;
  cv.width = w; cv.height = h;
  cv.style.left = (p.L - yW) + 'px';
  cv.style.top = (p.T - PADT) + 'px';
  document.body.appendChild(cv);

  var t = document.createElement('div');
  t.className = 'ttl';
  t.style.left = p.L + 'px';
  t.style.width = (p.R - p.L) + 'px';
  t.style.top = p.tY + 'px';
  t.innerHTML = line1 + p.limb + ' en ciclo de marcha<br>' + line2[p.dir];
  document.body.appendChild(t);

  var ds = [{
    data: pts(p.mean), borderColor: '#ff0000', borderWidth: 7.5, pointRadius: 0,
    cubicInterpolationMode: 'monotone', borderCapStyle: 'round', borderJoinStyle: 'round', order: 0
  }];
  p.trials.forEach(function(tr) {
    ds.push({data: pts(tr), borderColor: 'rgba(0,0,255,0.8)', borderWidth: 1.4, pointRadius: 0,
      cubicInterpolationMode: 'monotone', order: 1});
  });

  new Chart(cv, {
    type: 'line',
    data: {datasets: ds},
    options: {
      responsive: false, animation: false, devicePixelRatio: 1,
      layout: {padding: {top: PADT, right: PADR, left: 0, bottom: 0}},
      plugins: {legend: {display: false}, tooltip: {enabled: false}},
      scales: {
        x: {
          type: 'linear', min: 0, max: p.xMax,
          grid: {display: false, drawTicks: false}, border: {display: true, color: '#444'},
          ticks: {stepSize: 20, font: tickFont, color: '#333', padding: 8, maxRotation: 0, callback: fmt},
          title: {display: true, text: 'Muestras', font: axFont, color: '#333', padding: 0},
          afterFit: function(s) { s.height = XH; }
        },
        y: {
          min: p.yMin, max: p.yMax,
          grid: {display: false, drawTicks: false}, border: {display: true, color: '#444'},
          ticks: {stepSize: p.yStep, font: tickFont, color: '#333', padding: 7, callback: fmt},
          title: {display: true, text: 'Aceleración (m/s2)', font: axFont, color: '#333', padding: 0},
          afterFit: function(s) { s.width = yW; }
        }
      }
    },
    plugins: [inwardTicks]
  });
});
</script>
</body>
</html>
